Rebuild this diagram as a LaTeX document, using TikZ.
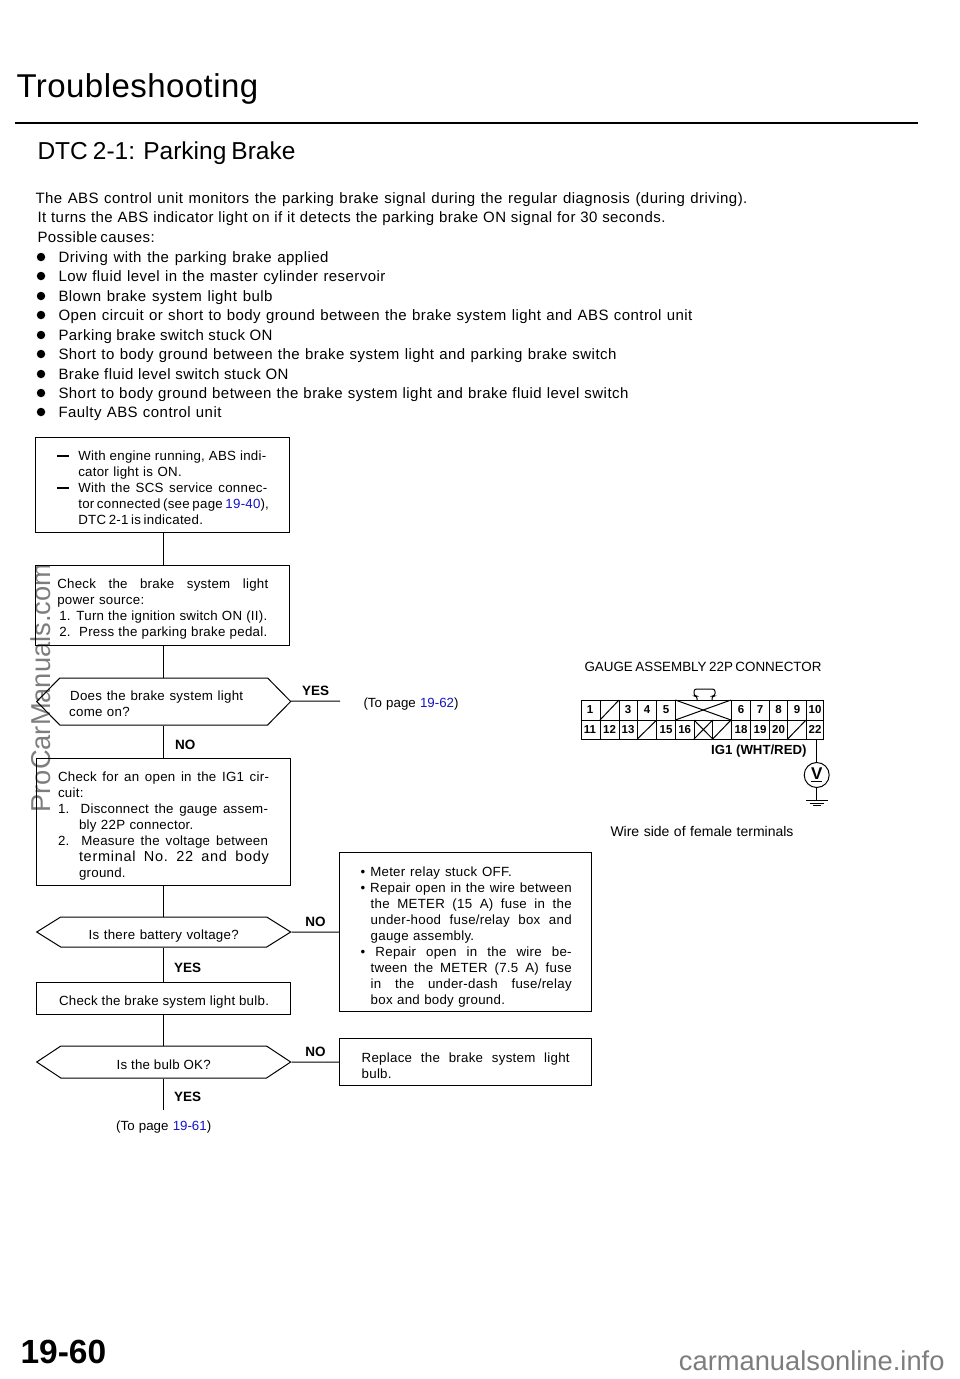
\documentclass[tikz,border=0pt]{standalone}
\usepackage{fontspec}
\usetikzlibrary{shapes.symbols}
\setmainfont{Liberation Sans}
\definecolor{linkblue}{RGB}{20,20,200}
\definecolor{markgray}{RGB}{125,125,125}
\newcommand{\fitline}[2]{\makebox[#1pt][s]{\spaceskip=0pt\xspaceskip=0pt #2}}
\newcommand{\dashmark}{\llap{\rule[3.4pt]{12pt}{1.9pt}\hspace{9pt}}}
\newcommand{\pagelink}[1]{\textcolor{linkblue}{#1}}

\begin{document}
\begin{tikzpicture}[x=1pt, y=-1pt, line width=1pt,
        every node/.style = {inner sep=0pt},
        body/.style = {anchor=west, yshift=-1pt, text height=11pt, text depth=3pt, font=\fontsize{15}{18}\selectfont\addfontfeature{LetterSpace=3}},
        dotmark/.style = {circle, fill=black, minimum size=8.5pt},
        drop/.style = {execute at begin node={\rule{0pt}{\dimexpr 10.2pt+2\dimexpr #1pt\relax\relax}\ignorespaces}},
        stepbox/.style = {draw, align=left, text width=210pt, inner xsep=21pt, font=\fontsize{13.3}{16}\selectfont\addfontfeature{LetterSpace=2}},
        askbox/.style = {draw, signal, signal to=east and west, align=left, minimum width=254pt, font=\fontsize{13.3}{16}\selectfont\addfontfeature{LetterSpace=2}},
        answer/.style = {font=\fontsize{13.5}{16}\selectfont\bfseries},
        note/.style = {yshift=-2pt, font=\fontsize{13.3}{16}\selectfont},
        pin/.style = {minimum height=19.5pt, font=\fontsize{11.5}{12}\selectfont\bfseries}]
    \useasboundingbox (0,0) rectangle (960,1379);

    \node[markgray, rotate=90, font=\fontsize{27.3}{30}\selectfont] (sidemark) at (41,688) {ProCarManuals.com};
    \node[markgray, anchor=east, font=\fontsize{27.3}{30}\selectfont] (footmark) at (945,1361) {carmanualsonline.info};

    \node[anchor=west, font=\fontsize{33}{36}\selectfont\addfontfeature{LetterSpace=1.4}] (title) at (16,89) {Troubleshooting};
    \coordinate (ruleL) at (15,123);
    \coordinate (ruleR) at (918,123);
    \draw[line width=2pt] (ruleL) -- (ruleR);
    \node[anchor=west, font=\fontsize{24.5}{30}\selectfont] (heading) at (37,153) {\fitline{258}{DTC 2-1: Parking Brake}};

    \node[body] (introA) at (35,198) {\fitline{712}{The ABS control unit monitors the parking brake signal during the regular diagnosis (during driving).}};
    \node[body] (introB) at (37,217) {\fitline{628}{It turns the ABS indicator light on if it detects the parking brake ON signal for 30 seconds.}};
    \node[body] (introC) at (37,237) {\fitline{115}{Possible causes:}};

    \foreach \n/\ypos/\len/\txt in {1/257/270/Driving with the parking brake applied,
        2/276/327/Low fluid level in the master cylinder reservoir,
        3/296/214/Blown brake system light bulb,
        4/315/634/Open circuit or short to body ground between the brake system light and ABS control unit,
        5/335/214/Parking brake switch stuck ON,
        6/354/558/Short to body ground between the brake system light and parking brake switch,
        7/374/230/Brake fluid level switch stuck ON,
        8/393/570/Short to body ground between the brake system light and brake fluid level switch,
        9/412/163/Faulty ABS control unit} {
        \node[dotmark] (dot\n) at (41,\ypos) {};
        \node[body] (item\n) at (58,\ypos) {\fitline{\len}{\txt}};
    }

    \coordinate (axis) at (163.7,0);
    \node[stepbox, drop=2.5, inner xsep=22pt, minimum width=254pt, minimum height=95pt] (entry) at (162.3,484.5) {%
        \hspace*{21pt}\dashmark\fitline{188}{With engine running, ABS indi-}\\
        \hspace*{21pt}cator light is ON.\\
        \hspace*{21pt}\dashmark\fitline{189}{With the SCS service connec-}\\
        \hspace*{21pt}\fitline{189}{tor connected (see page \pagelink{19-40}),}\\
        \hspace*{21pt}\fitline{122}{DTC 2-1 is indicated.}};
    \node[stepbox, drop=3.5, inner xsep=22pt, minimum width=254pt, minimum height=80pt] (power) [below of=entry, node distance=120.5pt] {%
        \fitline{211}{Check the brake system light}\\
        power source:\\
        \hspace*{2pt}\fitline{208}{1. Turn the ignition switch ON (II).}\\
        \hspace*{2pt}\fitline{208}{2.\ \ Press the parking brake pedal.}};
    \node[askbox, drop=2, minimum height=47pt, signal pointer angle=91, text width=189pt, xshift=1.4pt] (lighton) [below of=power, node distance=96.5pt] {%
        \hspace*{1pt}\fitline{173}{Does the brake system light}\\
        come on?};
    \node[stepbox, drop=4, inner xsep=22pt, minimum width=254pt, minimum height=127pt, xshift=-0.7pt] (circuit) [below of=lighton, node distance=120pt] {%
        \fitline{211}{Check for an open in the IG1 cir-}\\
        cuit:\\
        \fitline{210}{1.\ \ Disconnect the gauge assem-}\\
        \hspace*{21pt}bly 22P connector.\\
        \fitline{210}{2.\ \ Measure the voltage between}\\
        \hspace*{21pt}\fitline{190}{\fontsize{14.5}{16}\selectfont\addfontfeature{LetterSpace=5}terminal No.\ 22 and body}\\
        \hspace*{21pt}ground.};
    \node[askbox, drop=4, minimum height=30pt, signal pointer angle=64, xshift=0.7pt] (battery) [below of=circuit, node distance=110.5pt] {\fitline{150}{Is there battery voltage?}};
    \node[stepbox, drop=4, inner xsep=22pt, minimum width=254pt, minimum height=32pt, xshift=-0.7pt] (bulb) [below of=battery, node distance=66pt] {\hspace*{1pt}\fitline{210}{Check the brake system light bulb.}};
    \node[askbox, drop=2, minimum height=32pt, signal pointer angle=67, xshift=0.7pt] (bulbok) [below of=bulb, node distance=64pt] {\fitline{94}{Is the bulb OK?}};
    \node[stepbox, drop=4.5, minimum width=252pt, minimum height=159pt, xshift=-1pt] (repair) [right of=battery, node distance=303pt] {%
        \fitline{151}{\textbullet\ Meter relay stuck OFF.}\\
        \fitline{211}{\textbullet\ Repair open in the wire between}\\
        \hspace*{10pt}\fitline{201}{the METER (15 A) fuse in the}\\
        \hspace*{10pt}\fitline{201}{under-hood fuse/relay box and}\\
        \hspace*{10pt}gauge assembly.\\
        \fitline{211}{\textbullet\ Repair open in the wire be-}\\
        \hspace*{10pt}\fitline{201}{tween the METER (7.5 A) fuse}\\
        \hspace*{10pt}\fitline{201}{in the under-dash fuse/relay}\\
        \hspace*{10pt}box and body ground.};
    \node[stepbox, drop=3, minimum width=252pt, minimum height=47pt, xshift=-1pt] (replace) [right of=bulbok, node distance=303pt] {%
        \hspace*{1pt}\fitline{208}{Replace the brake system light}\\
        \hspace*{1pt}bulb.};

    \coordinate (yesEnd) at (340,701);
    \coordinate (okEnd) at (163.7,1110);
    \node[note, anchor=west] (toA) at (363,702) {\fitline{95}{(To page \pagelink{19-62})}};
    \node[note] (toB) [below of=okEnd, node distance=15pt] {\fitline{95}{(To page \pagelink{19-61})}};

    \path (axis |- entry.south) edge (axis |- power.north);
    \path (axis |- power.south) edge (axis |- lighton.north);
    \path (lighton) edge node[answer, above=5pt] {YES} (yesEnd);
    \path (axis |- lighton.south) edge node[answer, right=11pt, yshift=-3pt] {NO} (axis |- circuit.north);
    \path (axis |- circuit.south) edge (axis |- battery.north);
    \path (battery) edge node[answer, above=5pt] {NO} (repair);
    \path (axis |- battery.south) edge node[answer, right=10pt, yshift=-3pt] {YES} (axis |- bulb.north);
    \path (axis |- bulb.south) edge (axis |- bulbok.north);
    \path (bulbok) edge node[answer, above=5pt] {NO} (replace);
    \path (axis |- bulbok.south) edge node[answer, right=10pt, yshift=-3pt] {YES} (okEnd);

    \node[anchor=west, font=\fontsize{13.4}{16}\selectfont] (gauge) at (584,667) {\fitline{237}{GAUGE ASSEMBLY 22P CONNECTOR}};
    \draw (581,700) rectangle (823.3,739);
    \draw (581,720) -- (823.3,720);
    \foreach \cx in {600,619,637.3,656.7,675.3,731,750.7,769,787.7,806} {
        \draw (\cx,700) -- (\cx,739);
    }
    \foreach \cx in {694,712.7} {
        \draw (\cx,720) -- (\cx,739);
    }
    \draw (600,720) -- (619,700);
    \draw (675.3,700) -- (731,720);
    \draw (675.3,720) -- (731,700);
    \draw (637.3,739) -- (656.7,720);
    \draw (694,720) -- (712.7,739);
    \draw (694,739) -- (712.7,720);
    \draw (712.7,739) -- (731,720);
    \draw (787.7,739) -- (806,720);
    \draw[rounded corners=2.5pt] (697,700) -- (697,696) -- (694,696) -- (694,689) -- (715,689) -- (715,696) -- (712,696) -- (712,700);
    \foreach \lbl/\cx in {1/590,3/628,4/647,5/666,6/741,7/760,8/778.5,9/797,10/815} {
        \node[pin] (pin\lbl) at (\cx,710) {\lbl};
    }
    \foreach \lbl/\cx in {11/590,12/609.5,13/628,15/666,16/684.7,18/741,19/760,20/778.5,22/815} {
        \node[pin] (pin\lbl) at (\cx,729.7) {\lbl};
    }
    \node[anchor=east, font=\fontsize{13.2}{15}\selectfont\bfseries] (wire) at (807,751) {IG1 (WHT/RED)};
    \node[draw, circle, minimum size=25pt, font=\fontsize{17}{18}\selectfont\bfseries] (meter) at (816.7,775) {\underline{V}};
    \coordinate (gnd) at (816.7,800.5);
    \draw (meter |- pin22.south) -- (meter);
    \draw (meter) -- (gnd);
    \draw (806,800.5) -- (827.5,800.5);
    \draw (809.5,803.3) -- (824,803.3);
    \draw (813,805.8) -- (820.5,805.8);
    \node[font=\fontsize{14}{16}\selectfont] (wireside) at (702,831) {\fitline{183}{Wire side of female terminals}};

    \node[anchor=west, font=\fontsize{33.5}{36}\selectfont\bfseries] (pageno) at (20,1352) {19-60};
\end{tikzpicture}
\end{document}
